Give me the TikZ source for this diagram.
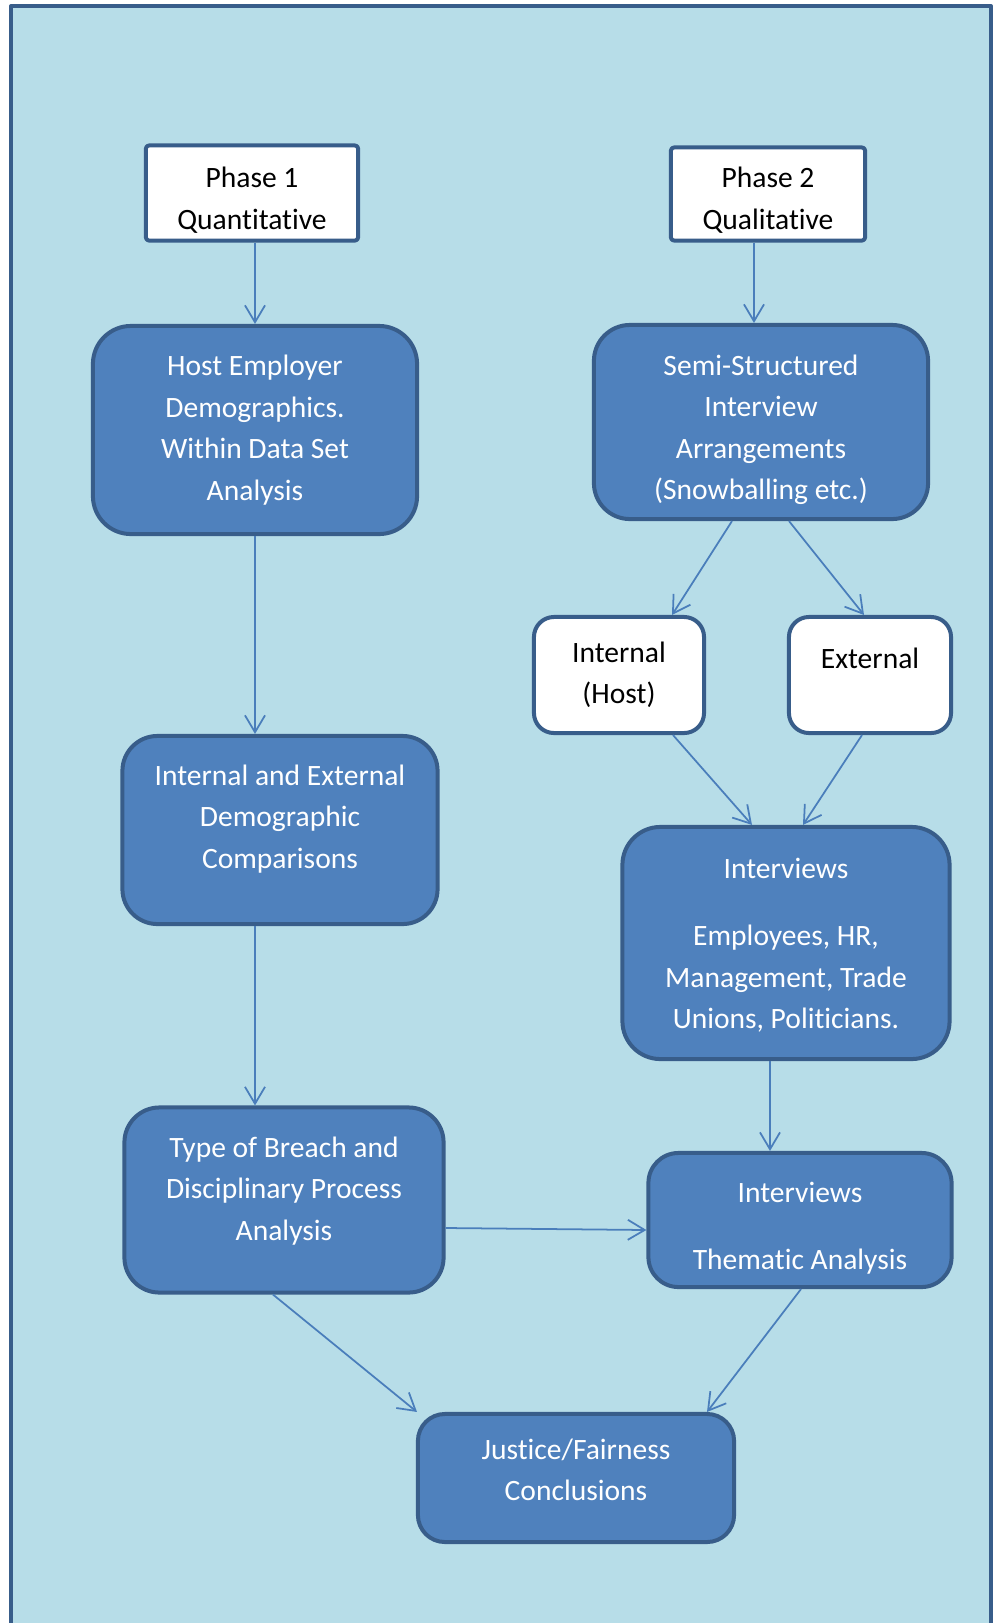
\documentclass[tikz,border=0pt]{standalone}
\usepackage{fontspec}
\setmainfont{Carlito}[Ligatures=NoCommon]
\usetikzlibrary{arrows.meta,calc}
\definecolor{paleblue}{RGB}{183,221,232}
\definecolor{boxblue}{RGB}{79,129,189}
\definecolor{edgeblue}{RGB}{56,93,138}
\definecolor{linkblue}{RGB}{74,126,187}
\newcommand{\liftlines}[2]{\raisebox{#1}[\height][\depth]{%
  \begin{tabular}{@{}c@{}}#2\end{tabular}}}
\begin{document}
\begin{tikzpicture}[x=0.01cm,y=-0.01cm,line join=round,
  every node/.style={font=\fontsize{8.4}{11.8}\selectfont,align=center,inner sep=0pt},
  phasebox/.style={draw=edgeblue,line width=0.4mm,fill=white,rounded corners=0.3mm},
  stagebox/.style={draw=edgeblue,line width=0.4mm,fill=boxblue,text=white},
  sidebox/.style={draw=edgeblue,line width=0.4mm,fill=white,rounded corners=2mm},
  link/.style={-{Straight Barb[length=4.8pt,width=5.7pt]},linkblue,line width=0.5pt}]
  \clip (0,0) rectangle (995,1623);
  \draw[edgeblue,line width=0.4mm,fill=paleblue] (11,6) rectangle (991,1700);
  \node[phasebox,minimum width=2.12cm,minimum height=0.95cm] (phase1) at (252,193)
    {\liftlines{-2.1pt}{Phase 1\\Quantitative}};
  \node[phasebox,minimum width=1.94cm,minimum height=0.93cm] (phase2) at (768,194)
    {\liftlines{-1.8pt}{Phase 2\\Qualitative}};
  \node[stagebox,rounded corners=3.8mm,minimum width=3.24cm,minimum height=2.08cm] (host) at (255,430)
    {Host Employer\\Demographics.\\Within Data Set\\Analysis};
  \node[stagebox,rounded corners=3.6mm,minimum width=3.34cm,minimum height=1.94cm] (semi) at (761,422)
    {\liftlines{-2.1pt}{Semi-Structured\\Interview\\Arrangements\\(Snowballing etc.)}};
  \node[sidebox,minimum width=1.70cm,minimum height=1.16cm] (internal) at (619,675)
    {Internal\\(Host)};
  \node[sidebox,minimum width=1.62cm,minimum height=1.16cm] (external) at (870,675)
    {\liftlines{-1.8pt}{External\\\mbox{}}};
  \node[stagebox,rounded corners=3.5mm,minimum width=3.15cm,minimum height=1.88cm] (intext) at (280,830)
    {\liftlines{3.3pt}{Internal and External\\Demographic\\Comparisons}};
  \node[stagebox,rounded corners=3.8mm,minimum width=3.27cm,minimum height=2.32cm] (interviews) at (786,943)
    {\liftlines{-0.7pt}{Interviews\\[7.3pt]Employees, HR,\\Management, Trade\\Unions, Politicians.}};
  \node[stagebox,rounded corners=3.5mm,minimum width=3.19cm,minimum height=1.85cm] (breach) at (284,1200)
    {\liftlines{2.7pt}{Type of Breach and\\Disciplinary Process\\Analysis}};
  \node[stagebox,rounded corners=3mm,minimum width=3.03cm,minimum height=1.34cm] (thematic) at (800,1220)
    {\liftlines{-2.1pt}{Interviews\\[7.3pt]Thematic Analysis}};
  \node[stagebox,rounded corners=2.7mm,minimum width=3.16cm,minimum height=1.28cm] (justice) at (576,1478)
    {\liftlines{1.8pt}{Justice/Fairness\\Conclusions}};
  \draw[link] (phase1.south -| host.north) -- (host.north);
  \draw[link] ($(phase2.south)+(-14,0)$) -- ($(semi.north)+(-7,0)$);
  \draw[link] (host.south) -- (host.south |- intext.north);
  \draw[link] (host.south |- intext.south) -- (host.south |- breach.north);
  \draw[link] ($(semi.south)+(-29,0)$) -- ($(internal.north)+(53,0)$);
  \draw[link] ($(semi.south)+(28,0)$) -- ($(external.north)+(-6,0)$);
  \draw[link] ($(internal.south)+(54,0)$) -- ($(interviews.north)+(-34,0)$);
  \draw[link] ($(external.south)+(-8,0)$) -- ($(interviews.north)+(17,0)$);
  \draw[link] ($(interviews.south)+(-16,0)$) -- ($(thematic.north)+(-30,0)$);
  \draw[link] ($(breach.east)+(0,28)$) -- ($(thematic.west)+(0,10)$);
  \draw[link] ($(breach.south)+(-11,0)$) -- ($(justice.north)+(-159,0)$);
  \draw[link] ($(thematic.south)+(1,0)$) -- ($(justice.north)+(131,0)$);
\end{tikzpicture}
\end{document}
